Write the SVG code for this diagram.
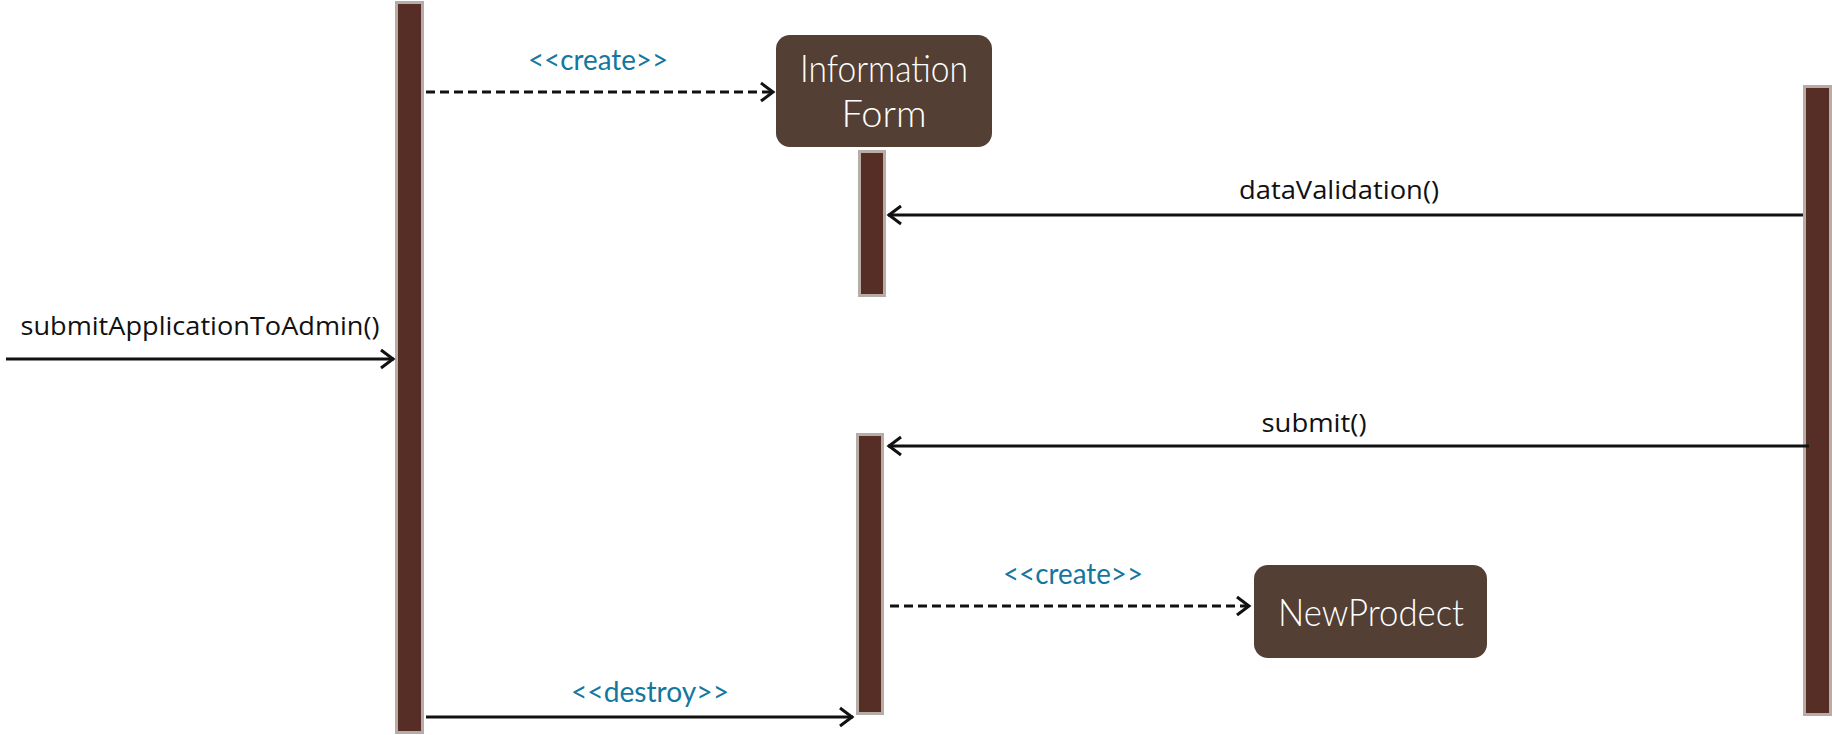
<svg xmlns="http://www.w3.org/2000/svg" width="1832" height="735" viewBox="0 0 1832 735">
<style>
.life{fill:#562e25;stroke:#b5ada6;stroke-width:3}
.box{fill:#533f34}
.msg{fill:none;stroke:#111;stroke-width:3}
.dash{stroke-dasharray:9 5}
.lbl{font-family:"Open Sans","Liberation Sans",sans-serif;font-size:25px;fill:#111;text-anchor:middle}
.ster{font-family:"Lato","Open Sans",sans-serif;font-size:28px;fill:#13779e;text-anchor:middle}
.node{font-family:"Lato","Open Sans",sans-serif;font-weight:300;font-size:38px;fill:#ffffff;text-anchor:middle}
</style>
<defs>
<marker id="open" markerUnits="userSpaceOnUse" markerWidth="22" markerHeight="26" refX="16" refY="12" orient="auto">
<path d="M3,3 L15,12 L3,21" fill="none" stroke="#111" stroke-width="3"/>
</marker>
</defs>
<rect width="1832" height="735" fill="#ffffff"/>
<g id="lifeline-left"><rect class="life" x="396.5" y="2.5" width="26" height="730"/></g>
<g id="lifeline-right"><rect class="life" x="1804.5" y="86.5" width="26" height="628"/></g>
<g id="activation-form-1"><rect class="life" x="859.5" y="151.5" width="25" height="144"/></g>
<g id="activation-form-2"><rect class="life" x="857.5" y="434.5" width="25" height="279"/></g>
<g id="information-form">
<rect class="box" x="776" y="35" width="216" height="112" rx="14"/>
<text class="node" x="884" y="82" textLength="168" lengthAdjust="spacingAndGlyphs">Information</text>
<text class="node" x="884" y="127">Form</text>
</g>
<g id="new-prodect">
<rect class="box" x="1254" y="565" width="233" height="93" rx="14"/>
<text class="node" x="1371" y="626" textLength="186" lengthAdjust="spacingAndGlyphs">NewProdect</text>
</g>
<g id="connectors">
<path class="msg dash" d="M426,92 L774,92" marker-end="url(#open)"/>
<text class="ster" x="598" y="70" textLength="140" lengthAdjust="spacingAndGlyphs">&lt;&lt;create&gt;&gt;</text>
<path class="msg" d="M1803,215 L888,215" marker-end="url(#open)"/>
<text class="lbl" x="1339" y="199" textLength="200" lengthAdjust="spacingAndGlyphs">dataValidation()</text>
<path class="msg" d="M6,359 L394,359" marker-end="url(#open)"/>
<text class="lbl" x="200" y="335" textLength="359" lengthAdjust="spacingAndGlyphs">submitApplicationToAdmin()</text>
<path class="msg" d="M1809,446 L888,446" marker-end="url(#open)"/>
<text class="lbl" x="1314" y="432" textLength="105" lengthAdjust="spacingAndGlyphs">submit()</text>
<path class="msg dash" d="M890,606 L1250,606" marker-end="url(#open)"/>
<text class="ster" x="1073" y="584" textLength="140" lengthAdjust="spacingAndGlyphs">&lt;&lt;create&gt;&gt;</text>
<path class="msg" d="M426,717 L853,717" marker-end="url(#open)"/>
<text class="ster" x="650" y="702" textLength="158" lengthAdjust="spacingAndGlyphs">&lt;&lt;destroy&gt;&gt;</text>
</g>
</svg>
